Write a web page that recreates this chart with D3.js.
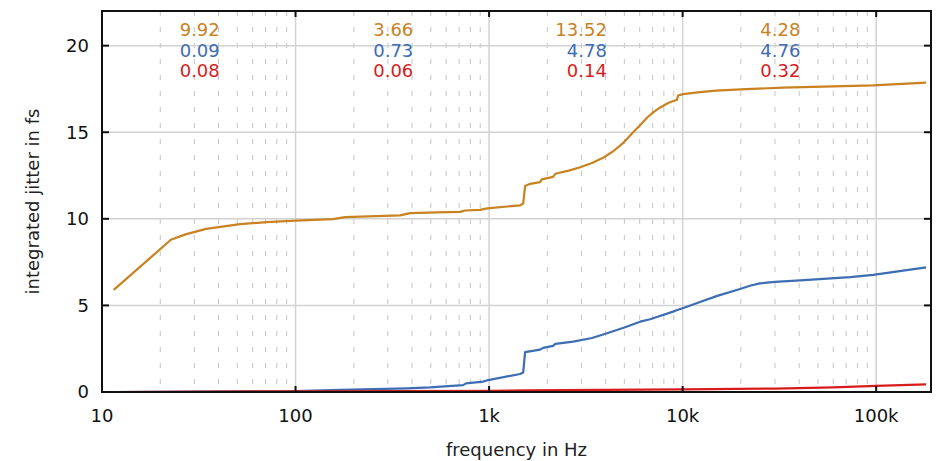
<!DOCTYPE html>
<html>
<head>
<meta charset="utf-8">
<script src="https://cdn.jsdelivr.net/npm/d3@7.9.0/dist/d3.min.js"></script>
<style>
  body { margin: 0; background: #fff; }
  svg { display: block; font-family: "DejaVu Sans", sans-serif; }
</style>
</head>
<body>
<svg id="chart" width="936" height="461"></svg>
<script>
// series: frequency (Hz) and integrated jitter (fs)
const orangeFreq = [11.5, 22.7, 27, 34.5, 51.7, 71, 100, 156, 180, 347, 391, 538, 708, 752, 898, 977, 1446, 1500, 1535, 1630, 1836, 1870, 2140, 2200, 2610, 2955, 3400, 3880, 4380, 4920, 5550, 6030, 6560, 7100, 7660, 8410, 9350, 9480, 10050, 12300, 14900, 20000, 33000, 96500, 181000];
const orangeVal = [5.9, 8.79, 9.1, 9.42, 9.69, 9.81, 9.9, 9.98, 10.1, 10.2, 10.33, 10.37, 10.4, 10.48, 10.52, 10.6, 10.78, 10.88, 11.9, 12.02, 12.12, 12.28, 12.42, 12.6, 12.8, 12.98, 13.22, 13.52, 13.9, 14.37, 15.0, 15.4, 15.85, 16.17, 16.43, 16.69, 16.88, 17.12, 17.2, 17.32, 17.4, 17.48, 17.57, 17.7, 17.86];

const blueFreq = [11.5, 100, 170, 377, 496, 734, 760, 931, 990, 1446, 1500, 1535, 1836, 1900, 2140, 2200, 2720, 3400, 4070, 5000, 6030, 6790, 8930, 9300, 10000, 12000, 15100, 19800, 22500, 25100, 30000, 40500, 73400, 96500, 181000];
const blueVal = [0.0, 0.05, 0.12, 0.21, 0.27, 0.4, 0.5, 0.6, 0.69, 1.04, 1.12, 2.3, 2.45, 2.55, 2.66, 2.78, 2.91, 3.12, 3.39, 3.72, 4.06, 4.2, 4.64, 4.72, 4.84, 5.15, 5.55, 5.95, 6.15, 6.27, 6.36, 6.45, 6.63, 6.76, 7.2];

const redFreq = [11.5, 100, 1000, 1500, 10000, 30000, 60000, 100000, 181000];
const redVal = [0.0, 0.04, 0.07, 0.09, 0.15, 0.2, 0.27, 0.35, 0.44];

// per-decade annotations (top row orange, middle blue, bottom red)
const decades = [10, 100, 1000, 10000];
const orangeNotes = ["9.92", "3.66", "13.52", "4.28"];
const blueNotes = ["0.09", "0.73", "4.78", "4.76"];
const redNotes = ["0.08", "0.06", "0.14", "0.32"];

const xTicks = [10, 100, 1000, 10000, 100000];
const xTickLabels = ["10", "100", "1k", "10k", "100k"];
const yTicks = [0, 5, 10, 15, 20];

const colors = { orange: "#c9821f", blue: "#3d6db3", red: "#d81c1c" };

const svg = d3.select("#chart");
const margin = { top: 11, right: 5, bottom: 69, left: 102 };
const width = 936 - margin.left - margin.right;
const height = 461 - margin.top - margin.bottom;

const x = d3.scaleLog().domain([10, 192000]).range([0, width]);
const y = d3.scaleLinear().domain([0, 22]).range([height, 0]);

const g = svg.append("g").attr("transform", `translate(${margin.left},${margin.top})`);

// minor grid (dashed)
let minor = [];
for (let d = 10; d < 192000; d *= 10) {
  for (let k = 2; k <= 9; k++) {
    if (d * k < 192000) minor.push(d * k);
  }
}
g.selectAll(".minor")
  .data(minor)
  .enter().append("line")
    .attr("class", "minor")
    .attr("x1", d => x(d)).attr("x2", d => x(d))
    .attr("y1", 0).attr("y2", height)
    .attr("stroke", "#c4c4c4")
    .attr("stroke-width", 1)
    .attr("stroke-dasharray", "5,11");

// major grid
g.selectAll(".vgrid")
  .data(xTicks.slice(1))
  .enter().append("line")
    .attr("x1", d => x(d)).attr("x2", d => x(d))
    .attr("y1", 0).attr("y2", height)
    .attr("stroke", "#d2d2d2")
    .attr("stroke-width", 1.5);
g.selectAll(".hgrid")
  .data(yTicks.slice(1))
  .enter().append("line")
    .attr("x1", 0).attr("x2", width)
    .attr("y1", d => y(d)).attr("y2", d => y(d))
    .attr("stroke", "#d2d2d2")
    .attr("stroke-width", 1.5);

// lines
const line = d3.line().x(d => x(d[0])).y(d => y(d[1]));
const series = [
  { f: orangeFreq, v: orangeVal, c: colors.orange },
  { f: blueFreq, v: blueVal, c: colors.blue },
  { f: redFreq, v: redVal, c: colors.red }
];
series.forEach(s => {
  g.append("path")
    .datum(s.f.map((f, i) => [f, s.v[i]]))
    .attr("fill", "none")
    .attr("stroke", s.c)
    .attr("stroke-width", 2.2)
    .attr("stroke-linejoin", "round")
    .attr("d", line);
});

// frame
g.append("rect")
  .attr("x", 0).attr("y", 0)
  .attr("width", width).attr("height", height)
  .attr("fill", "none")
  .attr("stroke", "#111")
  .attr("stroke-width", 2);

// ticks (inward)
xTicks.forEach(t => {
  g.append("line").attr("x1", x(t)).attr("x2", x(t)).attr("y1", height).attr("y2", height - 6)
    .attr("stroke", "#111").attr("stroke-width", 2);
  g.append("line").attr("x1", x(t)).attr("x2", x(t)).attr("y1", 0).attr("y2", 6)
    .attr("stroke", "#111").attr("stroke-width", 2);
});
yTicks.forEach(t => {
  g.append("line").attr("x1", 0).attr("x2", 7).attr("y1", y(t)).attr("y2", y(t))
    .attr("stroke", "#111").attr("stroke-width", 2);
  g.append("line").attr("x1", width).attr("x2", width - 7).attr("y1", y(t)).attr("y2", y(t))
    .attr("stroke", "#111").attr("stroke-width", 2);
});

// tick labels
g.selectAll(".xlab")
  .data(xTicks)
  .enter().append("text")
    .attr("x", d => x(d))
    .attr("y", height + 30)
    .attr("text-anchor", "middle")
    .attr("font-size", "18px")
    .attr("fill", "#111")
    .text((d, i) => xTickLabels[i]);
g.selectAll(".ylab")
  .data(yTicks)
  .enter().append("text")
    .attr("x", -13)
    .attr("y", d => y(d))
    .attr("dy", "0.35em")
    .attr("text-anchor", "end")
    .attr("font-size", "18px")
    .attr("fill", "#111")
    .text(d => d);

// axis titles
g.append("text")
  .attr("x", width / 2)
  .attr("y", height + 64)
  .attr("text-anchor", "middle")
  .attr("font-size", "18px")
  .attr("fill", "#222")
  .text("frequency in Hz");
g.append("text")
  .attr("transform", "rotate(-90)")
  .attr("x", -height / 2)
  .attr("y", -margin.left + 39)
  .attr("text-anchor", "middle")
  .attr("font-size", "18px")
  .attr("fill", "#222")
  .text("integrated jitter in fs");

// decade annotations
const notes = [
  { t: orangeNotes, c: colors.orange, y: 25 },
  { t: blueNotes, c: colors.blue, y: 46 },
  { t: redNotes, c: colors.red, y: 66 }
];
notes.forEach(n => {
  g.selectAll(null)
    .data(decades)
    .enter().append("text")
      .attr("x", d => x(d * Math.sqrt(10)) + 21)
      .attr("y", n.y)
      .attr("text-anchor", "end")
      .attr("font-size", "18px")
      .attr("fill", n.c)
      .text((d, i) => n.t[i]);
});
</script>
</body>
</html>
